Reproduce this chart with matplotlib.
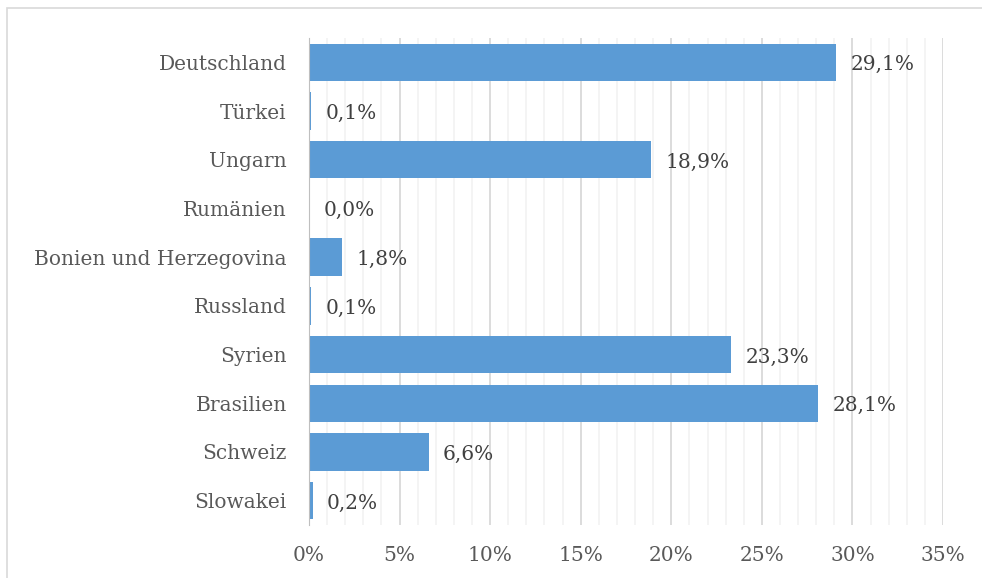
import matplotlib.pyplot as plt
from matplotlib.patches import Rectangle
from matplotlib.ticker import MultipleLocator

# data, top to bottom
countries = ['Deutschland', 'Türkei', 'Ungarn', 'Rumänien', 'Bonien und Herzegovina',
             'Russland', 'Syrien', 'Brasilien', 'Schweiz', 'Slowakei']
shares = [29.1, 0.1, 18.9, 0.0, 1.8, 0.1, 23.3, 28.1, 6.6, 0.2]
xticks = [0, 5, 10, 15, 20, 25, 30, 35]

plt.rcParams['font.family'] = ['DejaVu Serif']
text_col = '#595959'
fs = 14.5

fig = plt.figure(figsize=(9.82, 5.78), dpi=100)
ax = fig.add_axes([309/982, 1 - 525/578, (943 - 309)/982, (525 - 38)/578])

# light frame around the chart (only left and top visible in the crop)
fig.patches.append(Rectangle((7/982, -0.5), 2, 1.5 - 8/578, transform=fig.transFigure,
                             fill=False, edgecolor='#d9d9d9', linewidth=1.2))

y = list(range(len(countries)))
ax.barh(y, shares, height=0.77, color='#5B9BD5', zorder=3)
for yi, v in zip(y, shares):
    ax.text(v + 0.8, yi + 0.05, f'{v:.1f}%'.replace('.', ','), va='center', ha='left',
            fontsize=fs, color='#404040')

ax.set_ylim(len(countries) - 0.5, -0.5)
ax.set_yticks(y)
ax.set_yticklabels(countries, fontsize=fs, color=text_col)
ax.set_xlim(0, 35)
ax.set_xticks(xticks)
ax.set_xticklabels([f'{t}%' for t in xticks], fontsize=fs, color=text_col)
ax.xaxis.set_minor_locator(MultipleLocator(1))
ax.grid(axis='x', which='major', color='#d9d9d9', linewidth=1.3, zorder=0)
ax.grid(axis='x', which='minor', color='#f2f2f2', linewidth=1.2, zorder=0)
ax.tick_params(which='both', length=0)
ax.tick_params(axis='y', pad=16)
ax.tick_params(axis='x', pad=15)
for s in ['top', 'right', 'bottom']:
    ax.spines[s].set_visible(False)
ax.spines['left'].set_color('#bfbfbf')
ax.spines['left'].set_zorder(4)

fig.savefig('out.png', dpi=100)
